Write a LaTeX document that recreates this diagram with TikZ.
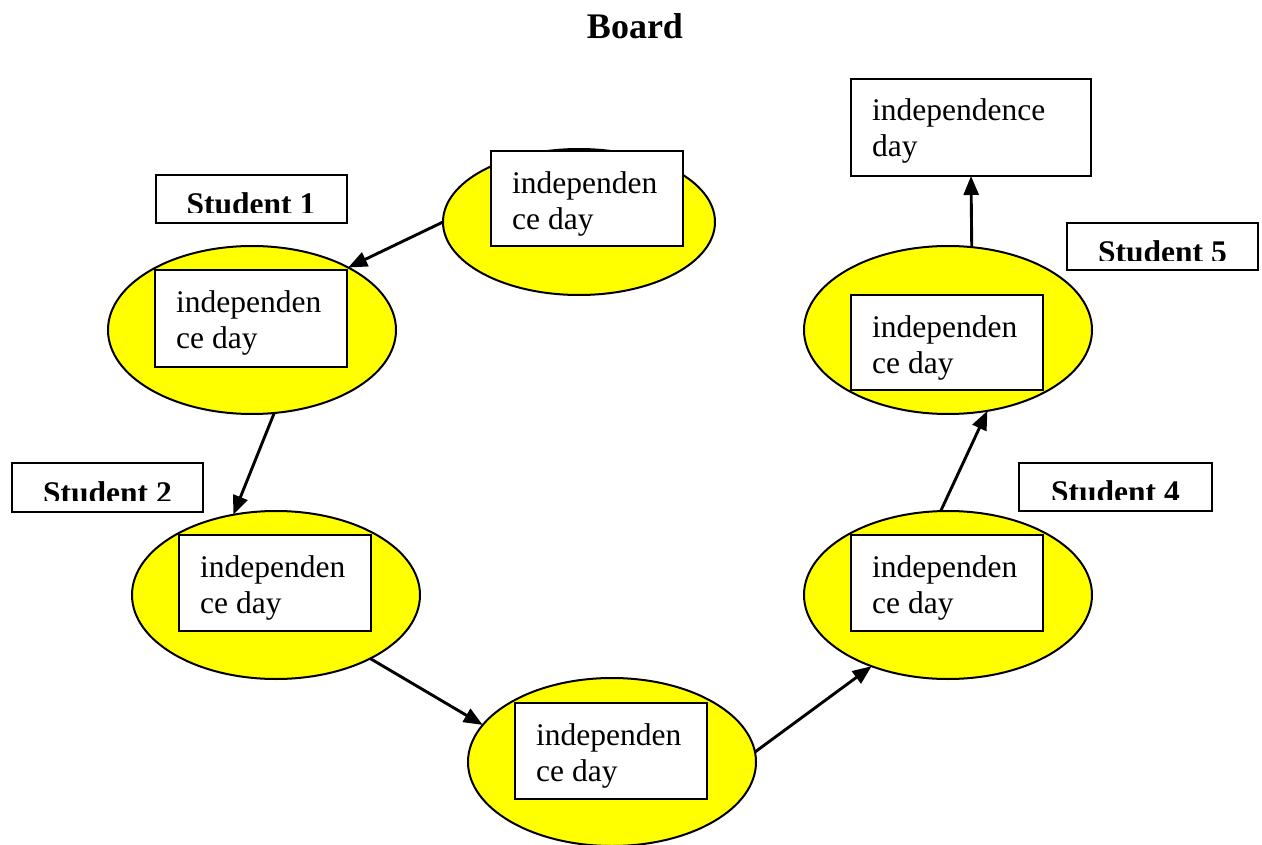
\documentclass[tikz,border=0pt]{standalone}
\usepackage{fontspec}
\setmainfont{Liberation Serif}
\usetikzlibrary{shapes.geometric,arrows.meta}
\definecolor{bubbleyellow}{RGB}{255,255,0}
\begin{document}
\begin{tikzpicture}[x=1pt,y=-1pt,
  bubble/.style={ellipse, draw=black, line width=2pt, fill=bubbleyellow,
    minimum width=288pt, minimum height=168pt, inner sep=0pt, outer sep=0pt},
  card/.style={rectangle, draw=black, line width=2pt, fill=white,
    minimum width=192pt, minimum height=96pt, inner sep=0pt, outer sep=0pt},
  tag/.style={rectangle, draw=black, line width=2pt, fill=white,
    minimum width=191pt, minimum height=48pt, inner sep=0pt, outer sep=0pt},
  cardtext/.style={anchor=north west, inner sep=0pt, align=left,
    font=\fontsize{31.5}{36}\selectfont},
  tagtext/.style={anchor=base, inner sep=0pt,
    font=\fontsize{31.5}{36}\selectfont\bfseries},
  link/.style={line width=2.9pt, -{Triangle[length=19pt,width=15pt]}}]

\useasboundingbox (0,0) rectangle (1262,845);

% heading
\node[anchor=base, inner sep=0pt, font=\fontsize{36}{40}\selectfont\bfseries]
  (title) at (635,39) {Board};

% yellow bubbles
\node[bubble, minimum width=272pt, minimum height=146pt] (e0) at (579,222) {};
\node[bubble] (e1) at (252,330) {};
\node[bubble] (e2) at (276,595) {};
\node[bubble] (e3) at (612,762) {};
\node[bubble] (e4) at (948,595) {};
\node[bubble] (e5) at (948,330) {};

% cards holding the text
\node[card, minimum height=95pt] (c0) at (587,198.5) {};
\node[card] (c1) at (251,318.5) {};
\node[card] (c2) at (275,583) {};
\node[card] (c3) at (611,751) {};
\node[card] (c4) at (947,583) {};
\node[card, minimum height=95pt] (c5) at (947,342.5) {};
\node[card, minimum width=240pt, minimum height=97pt] (c6) at (971,127.5) {};

\node[cardtext] (t0) at ([shift={(21pt,-20pt)}]c0.north west) {independen\\ce day};
\node[cardtext] (t1) at ([shift={(21pt,-20pt)}]c1.north west) {independen\\ce day};
\node[cardtext] (t2) at ([shift={(21pt,-20pt)}]c2.north west) {independen\\ce day};
\node[cardtext] (t3) at ([shift={(21pt,-20pt)}]c3.north west) {independen\\ce day};
\node[cardtext] (t4) at ([shift={(21pt,-20pt)}]c4.north west) {independen\\ce day};
\node[cardtext] (t5) at ([shift={(21pt,-20pt)}]c5.north west) {independen\\ce day};
\node[cardtext] (t6) at ([shift={(21pt,-19pt)}]c6.north west) {independence\\day};

% student tags, their text cut off near the baseline
\node[tag] (s1) at (251,199) {};
\node[tag, minimum width=191pt, minimum height=49pt] (s2) at (107.5,487.5) {};
\node[tag, minimum width=193pt] (s4) at (1115.5,487) {};
\node[tag, minimum height=47pt] (s5) at (1162.5,247) {};

\begin{scope}
  \clip (s1.north west) rectangle ([yshift=10pt]s1.south east);
  \node[tagtext] (l1) at ([yshift=8pt]s1.south) {Student 1};
\end{scope}
\begin{scope}
  \clip (s2.north west) rectangle ([yshift=12pt]s2.south east);
  \node[tagtext] (l2) at ([yshift=9pt]s2.south) {Student 2};
\end{scope}
\begin{scope}
  \clip (s4.north west) rectangle ([yshift=12pt]s4.south east);
  \node[tagtext] (l4) at ([yshift=9pt]s4.south) {Student 4};
\end{scope}
\begin{scope}
  \clip (s5.north west) rectangle ([yshift=10pt]s5.south east);
  \node[tagtext] (l5) at ([yshift=8pt]s5.south) {Student 5};
\end{scope}

% hand-over arrows
\draw[link] (e0.west) -- (e1.33);
\draw[link] (e1.-75) -- (e2.118);
\draw[link] (e2.-34) -- (e3.164);
\draw[link] (e3.4) -- (e4.-137);
\draw[link] (e4.95) -- (e5.-64);
\draw[link] (e5.74) -- (c6.south);

\end{tikzpicture}
\end{document}
